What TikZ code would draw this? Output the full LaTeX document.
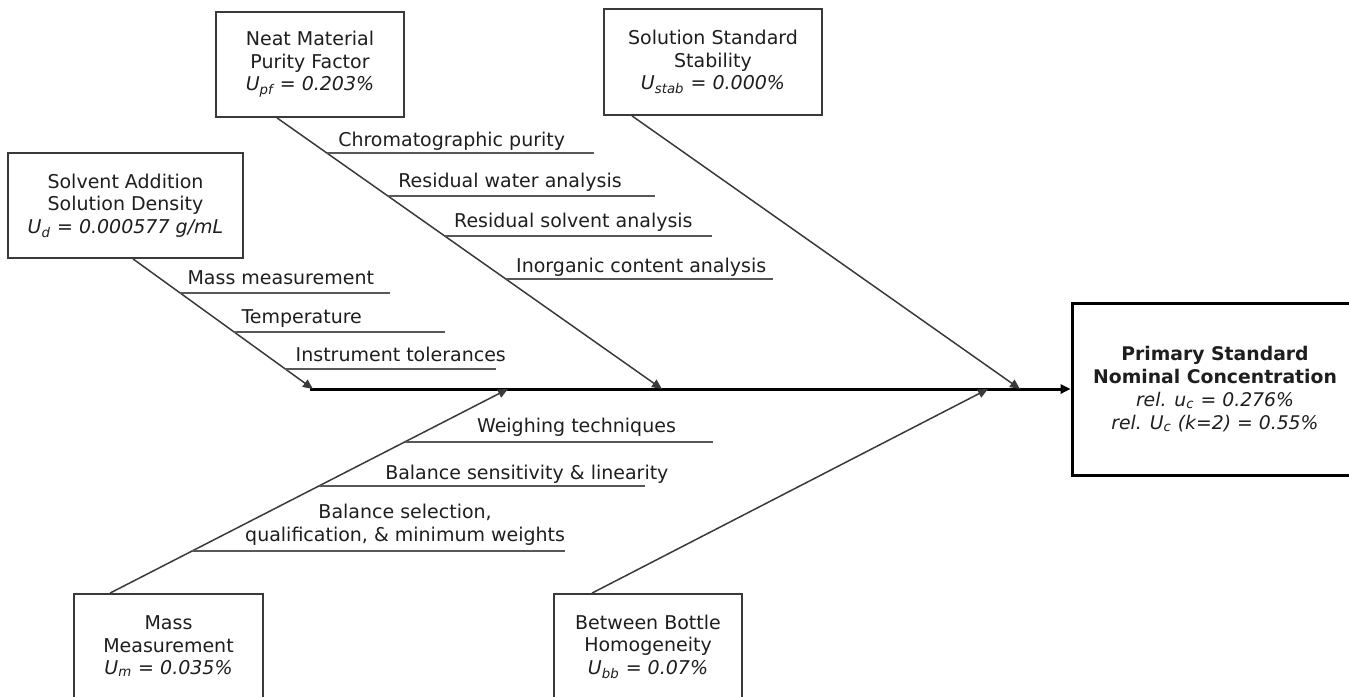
\documentclass[tikz,border=0pt]{standalone}
\usepackage{fontspec}
\setmainfont{DejaVu Sans}
\usetikzlibrary{arrows.meta,calc}
\definecolor{ink}{HTML}{1E1E1E}
\definecolor{edge}{HTML}{3A3A3A}
\tikzset{
  cause/.style={draw=edge, line width=0.9pt, fill=white, inner sep=0pt, align=center, text=ink, font=\fontsize{9.5}{11.25}\selectfont},
  effect/.style={draw=black, line width=1.5pt, inner sep=0pt, align=center, text=ink, font=\fontsize{9.4}{11.5}\selectfont},
  bone/.style={draw=edge, line width=0.75pt, -{Triangle[length=5pt,width=4.4pt]}},
  twig/.style={draw=edge!85, line width=0.8pt},
  factor/.style={inner sep=0pt, text=ink, font=\fontsize{9.5}{11.25}\selectfont},
}
\begin{document}
\begin{tikzpicture}[x=0.5pt, y=-0.5pt]
\useasboundingbox (0,0) rectangle (1349,696);

\node[cause, minimum width=117.5pt, minimum height=52.5pt] (sa) at (125.5,205.5) {Solvent Addition\\Solution Density\\\textit{U\textsubscript{d} = 0.000577 g/mL}};
\node[cause, minimum width=94pt, minimum height=52.5pt] (nm) at (310,64.5) {Neat Material\\Purity Factor\\\textit{U\textsubscript{pf} = 0.203\%}};
\node[cause, minimum width=109pt, minimum height=53pt] (ss) at (713,62) {Solution Standard\\Stability\\\textit{U\textsubscript{stab} = 0.000\%}};
\node[cause, minimum width=94.5pt, minimum height=52.5pt] (mm) at (168.5,646.5) {Mass\\Measurement\\\textit{U\textsubscript{m} = 0.035\%}};
\node[cause, minimum width=94pt, minimum height=52.5pt] (bb) at (648,646.5) {Between Bottle\\Homogeneity\\\textit{U\textsubscript{bb} = 0.07\%}};
\node[effect, minimum width=143pt, minimum height=86pt] (ps) at (1215,389) {\textbf{Primary Standard}\\\textbf{Nominal Concentration}\\\textit{rel. u\textsubscript{c} = 0.276\%}\\\textit{rel. U\textsubscript{c} (k=2) = 0.55\%}};

% spine
\coordinate (tail)  at (310,389);
\coordinate (satip) at (313,389);
\coordinate (mmtip) at (508,389);
\coordinate (nmtip) at (662,389);
\coordinate (bbtip) at (988,389);
\coordinate (sstip) at (1020,389);
\draw[black, line width=1.5pt, -{Triangle[length=5pt,width=4.6pt]}] (tail) -- (ps.west);

% bones
\coordinate (saf) at ($(sa.south)+(7.5,0)$);
\coordinate (nmf) at ($(nm.south)+(-33,0)$);
\coordinate (ssf) at ($(ss.south)+(-81,0)$);
\coordinate (mmf) at ($(mm.north)+(-58.5,0)$);
\coordinate (bbf) at ($(bb.north)+(-56,0)$);
\draw[bone] (saf) -- (satip);
\draw[bone] (nmf) -- (nmtip);
\draw[bone] (ssf) -- (sstip);
\draw[bone] (mmf) -- (mmtip);
\draw[bone] (bbf) -- (bbtip);

\coordinate (sa1) at (intersection of saf--satip and 0,293--100,293);
\coordinate (sa2) at (intersection of saf--satip and 0,332--100,332);
\coordinate (sa3) at (intersection of saf--satip and 0,369--100,369);
\draw[twig] (sa1) -- ++(210,0);
\draw[twig] (sa2) -- ++(211,0);
\draw[twig] (sa3) -- ++(211,0);
\node[factor, anchor=base west] (mass)  at ($(sa1)+(7,-9)$) {Mass measurement};
\node[factor, anchor=base west] (temp)  at ($(sa2)+(7,-9)$) {Temperature};
\node[factor, anchor=base west] (instr) at ($(sa3)+(10,-8)$) {Instrument tolerances};

\coordinate (nm1) at (intersection of nmf--nmtip and 0,153--100,153);
\coordinate (nm2) at (intersection of nmf--nmtip and 0,196--100,196);
\coordinate (nm3) at (intersection of nmf--nmtip and 0,236--100,236);
\coordinate (nm4) at (intersection of nmf--nmtip and 0,279--100,279);
\draw[twig] (nm1) -- ++(267,0);
\draw[twig] (nm2) -- ++(267,0);
\draw[twig] (nm3) -- ++(267,0);
\draw[twig] (nm4) -- ++(267,0);
\node[factor, anchor=base west] (chrom) at ($(nm1)+(11,-7)$) {Chromatographic purity};
\node[factor, anchor=base west] (water) at ($(nm2)+(10,-9)$) {Residual water analysis};
\node[factor, anchor=base west] (solv)  at ($(nm3)+(9,-9)$) {Residual solvent analysis};
\node[factor, anchor=base west] (inorg) at ($(nm4)+(10,-7)$) {Inorganic content analysis};

\coordinate (mm1) at (intersection of mmf--mmtip and 0,442--100,442);
\coordinate (mm2) at (intersection of mmf--mmtip and 0,486--100,486);
\coordinate (mm3) at (intersection of mmf--mmtip and 0,551--100,551);
\draw[twig] (mm1) -- ++(308,0);
\draw[twig] (mm2) -- ++(326,0);
\draw[twig] (mm3) -- ++(373,0);
\node[factor, anchor=base west] (weigh) at ($(mm1)+(72,-10)$) {Weighing techniques};
\node[factor, anchor=base west] (sens)  at ($(mm2)+(66,-7)$) {Balance sensitivity \& linearity};
\node[factor, align=center] (select) at ($(mm3)+(213,-26.5)$) {Balance selection,\\qualification, \& minimum weights};

\end{tikzpicture}
\end{document}
